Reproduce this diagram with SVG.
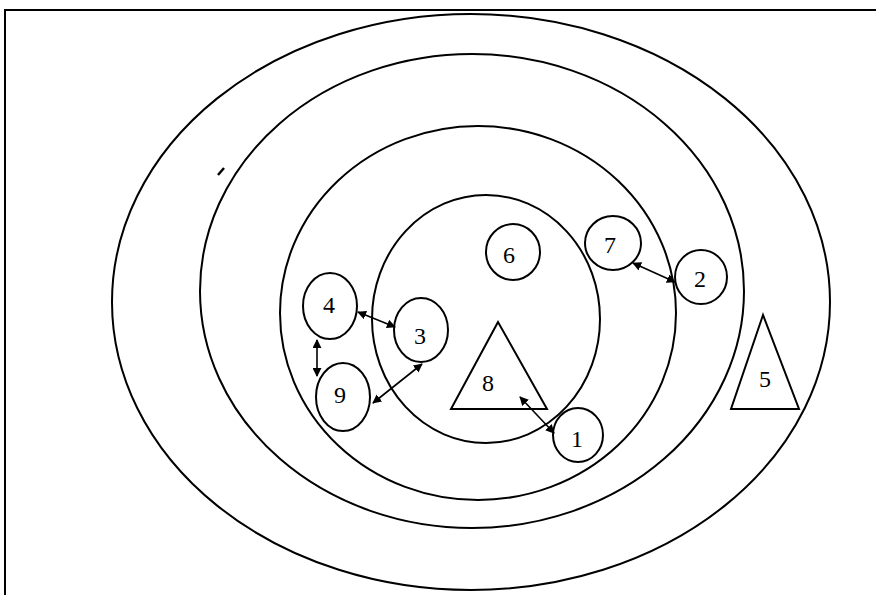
<svg xmlns="http://www.w3.org/2000/svg" width="876" height="595" viewBox="0 0 876 595">
<style>
.ring{fill:none;stroke:#000;stroke-width:2}
.node{fill:none;stroke:#000;stroke-width:2}
.lbl{font-family:"Liberation Serif","Times New Roman",serif;font-size:24px;text-anchor:middle;fill:#000}
.arr{fill:none;stroke:#000;stroke-width:1.6;marker-start:url(#ah);marker-end:url(#ah)}
</style>
<defs>
<marker id="ah" viewBox="0 0 10 10" refX="9" refY="5" markerWidth="9" markerHeight="9" markerUnits="userSpaceOnUse" orient="auto-start-reverse">
<path d="M0,0 L10,5 L0,10 z" fill="#000"/>
</marker>
</defs>
<rect width="876" height="595" fill="#fff"/>
<g id="frame">
<path d="M5,595 L5,10 L876,10" fill="none" stroke="#000" stroke-width="2"/>
</g>
<g id="rings">
<ellipse id="ring-outer" class="ring" cx="471" cy="302" rx="359" ry="288"/>
<ellipse id="ring-2" class="ring" cx="472" cy="291" rx="272" ry="237"/>
<ellipse id="ring-3" class="ring" cx="478" cy="313" rx="198" ry="187"/>
<ellipse id="ring-inner" class="ring" cx="486" cy="319" rx="114" ry="124"/>
</g>
<path d="M218,175 L224,168" stroke="#000" stroke-width="2.5"/>
<g id="n4"><ellipse class="node" cx="330" cy="306" rx="27" ry="33"/><text class="lbl" x="329" y="313">4</text></g>
<g id="n3"><ellipse class="node" cx="421" cy="330" rx="27" ry="32"/><text class="lbl" x="420" y="344">3</text></g>
<g id="n9"><ellipse class="node" cx="343" cy="397" rx="27" ry="34"/><text class="lbl" x="340" y="403">9</text></g>
<g id="n8"><polygon class="node" points="498,322 451,409 547,409"/><text class="lbl" x="488" y="391">8</text></g>
<g id="n1"><ellipse class="node" cx="578" cy="435" rx="25" ry="27"/><text class="lbl" x="577" y="447">1</text></g>
<g id="n7"><ellipse class="node" cx="613" cy="243" rx="28" ry="27"/><text class="lbl" x="610" y="253">7</text></g>
<g id="n2"><ellipse class="node" cx="701" cy="277" rx="26" ry="27"/><text class="lbl" x="700" y="287">2</text></g>
<g id="n6"><ellipse class="node" cx="513" cy="252" rx="27" ry="28"/><text class="lbl" x="509" y="263">6</text></g>
<g id="n5"><polygon class="node" points="763,315 731,409 799,409"/><text class="lbl" x="765" y="387">5</text></g>
<g id="connectors">
<line class="arr" x1="358" y1="312" x2="395" y2="327"/>
<line class="arr" x1="317" y1="340" x2="317" y2="376"/>
<line class="arr" x1="422" y1="364" x2="373" y2="403"/>
<line class="arr" x1="520" y1="397" x2="554" y2="433"/>
<line class="arr" x1="633" y1="263" x2="675" y2="282"/>
</g>
</svg>
